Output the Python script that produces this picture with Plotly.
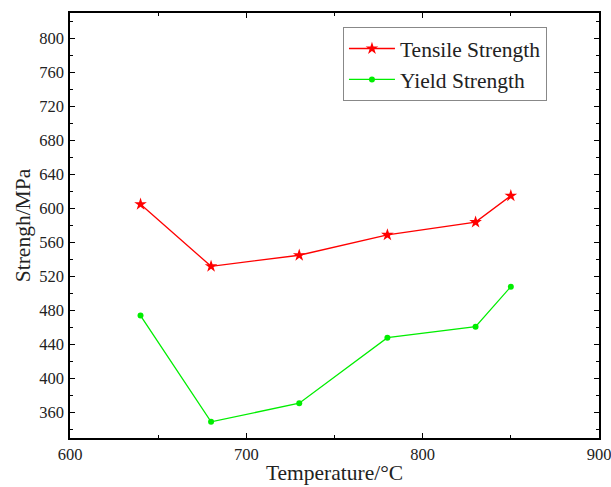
import plotly.graph_objects as go

temperature = [640, 680, 730, 780, 830, 850]
tensile_strength = [605, 532, 545, 569, 584, 615]
yield_strength = [474, 349, 371, 448, 461, 508]

x_ticks = [600, 700, 800, 900]
y_ticks = [360, 400, 440, 480, 520, 560, 600, 640, 680, 720, 760, 800]

font_family = "Liberation Serif, Times New Roman, serif"

fig = go.Figure()
fig.add_trace(go.Scatter(
    x=temperature, y=tensile_strength, mode="lines+markers",
    name="Tensile Strength",
    line=dict(color="#ff0000", width=1.3),
    marker=dict(symbol="star", size=9.5, color="#ff0000"),
))
fig.add_trace(go.Scatter(
    x=temperature, y=yield_strength, mode="lines+markers",
    name="Yield Strength",
    line=dict(color="#00ee00", width=1.3),
    marker=dict(symbol="circle", size=6, color="#00ee00"),
))

axis_common = dict(
    showline=True, linecolor="black", linewidth=1.5, mirror="ticks",
    ticks="inside", ticklen=5, tickwidth=1.2, tickcolor="black",
    showgrid=False, zeroline=False, automargin=False,
    ticklabeloverflow="allow",
    tickfont=dict(family=font_family, size=16.5, color="#222"),
)

fig.update_xaxes(
    range=[600, 900], tickvals=x_ticks, ticklabelstandoff=0,
    title=dict(text="Temperature/°C", font=dict(family=font_family, size=21.5, color="#222"), standoff=2),
    minor=dict(ticks="inside", ticklen=3, tickcolor="black", dtick=50, tick0=600),
    **axis_common,
)
fig.update_yaxes(
    range=[330, 830], tickvals=y_ticks, ticklabelstandoff=1,
    title=dict(text="Strengh/MPa", font=dict(family=font_family, size=21.5, color="#222"), standoff=3),
    minor=dict(ticks="inside", ticklen=3, tickcolor="black", dtick=20, tick0=320),
    **axis_common,
)

fig.update_layout(
    width=611, height=487,
    margin=dict(l=70, r=12, t=13, b=49),
    plot_bgcolor="white", paper_bgcolor="white",
    legend=dict(
        x=0.516, y=0.967, xanchor="left", yanchor="top",
        bgcolor="white", bordercolor="#888", borderwidth=1,
        font=dict(family=font_family, size=21.5, color="#222"),
        tracegroupgap=0, itemwidth=46,
    ),
)

fig.write_html(
    "out.html",
    config={"displayModeBar": False},
    post_script="document.body.style.margin='0';document.body.style.overflow='hidden';",
)
